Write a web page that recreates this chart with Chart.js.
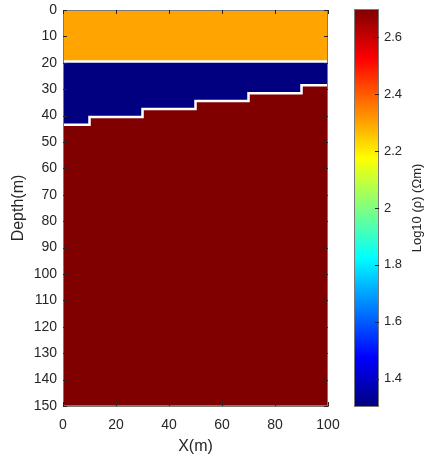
<!DOCTYPE html>
<html>
<head>
<meta charset="utf-8">
<script src="https://cdn.jsdelivr.net/npm/chart.js@4/dist/chart.umd.min.js"></script>
<style>
  body { margin: 0; background: #fff; }
  #model { position: absolute; left: 0; top: 0; }
  #cbar { position: absolute; left: 340px; top: 0; }
</style>
</head>
<body>
<canvas id="model" width="340" height="456"></canvas>
<canvas id="cbar" width="85" height="456"></canvas>
<script>
// layer model: log10 resistivity of each layer (top, middle, bottom)
const layerLogRho = [2.3, 1.3, 2.7];

// interface between top and middle layer
const topIfaceX = [0, 100];
const topIfaceDepth = [19.5, 19.5];

// stepped interface between middle and bottom layer
const stepIfaceX = [0, 10, 30, 50, 70, 90, 100];
const stepIfaceDepth = [43.5, 40.5, 37.5, 34.5, 31.5, 28.5, 28.5];

const depthRange = [0, 150];
const xRange = [0, 100];
const cbarRange = [1.3, 2.7];
const cbarTicks = [1.4, 1.6, 1.8, 2, 2.2, 2.4, 2.6];

const FONT = "'Liberation Sans', Arial, Helvetica, sans-serif";
const TEXT = "#262626";
const AXIS = "#7a7a7a";

// jet colormap, t in [0,1]
function jet(t) {
  const c = (v) => Math.round(255 * Math.min(1, Math.max(0, v)));
  return `rgb(${c(1.5 - Math.abs(4 * t - 3))},${c(1.5 - Math.abs(4 * t - 2))},${c(1.5 - Math.abs(4 * t - 1))})`;
}
const rhoColor = (v) => jet((v - cbarRange[0]) / (cbarRange[1] - cbarRange[0]));

const pts = (xs, ys) => xs.map((x, i) => ({ x: x, y: ys[i] }));

// keep label overhang from shrinking the plot box
const noOverhang = (s) => {
  s.paddingLeft = 0; s.paddingRight = 0;
  s.paddingTop = 0; s.paddingBottom = 0;
};

// MATLAB-style ticks pointing into the axes, plus the box
const inwardTicks = {
  id: "inwardTicks",
  afterDatasetsDraw(chart, args, opts) {
    const ctx = chart.ctx;
    const a = chart.chartArea;
    ctx.save();
    ctx.lineWidth = 1;
    ctx.strokeStyle = AXIS;
    ctx.strokeRect(Math.round(a.left) + 0.5, Math.round(a.top) + 0.5,
      Math.round(a.right - a.left) - 1, Math.round(a.bottom - a.top) - 1);
    ctx.strokeStyle = TEXT;
    const len = opts.len || 4;
    ctx.beginPath();
    (opts.axes || []).forEach((id) => {
      const s = chart.scales[id];
      s.ticks.forEach((t) => {
        const p = Math.round(s.getPixelForValue(t.value)) + 0.5;
        if (s.isHorizontal()) {
          ctx.moveTo(p, a.bottom); ctx.lineTo(p, a.bottom - len);
          ctx.moveTo(p, a.top); ctx.lineTo(p, a.top + len);
        } else {
          if (opts.sides !== "right") { ctx.moveTo(a.left, p); ctx.lineTo(a.left + len, p); }
          ctx.moveTo(a.right, p); ctx.lineTo(a.right - len, p);
        }
      });
    });
    ctx.stroke();
    ctx.restore();
  },
};

new Chart(document.getElementById("model"), {
  type: "line",
  data: {
    datasets: [
      {
        // top layer
        data: pts(topIfaceX, topIfaceDepth),
        order: 1,
        borderColor: "#ffffff",
        borderWidth: 2.5,
        backgroundColor: rhoColor(layerLogRho[0]),
        fill: { value: depthRange[0] },
        pointRadius: 0,
      },
      {
        // bottom layer below the stepped interface
        data: pts(stepIfaceX, stepIfaceDepth),
        order: 2,
        stepped: "before",
        borderColor: "#ffffff",
        borderWidth: 2.5,
        backgroundColor: rhoColor(layerLogRho[2]),
        fill: { value: depthRange[1] },
        pointRadius: 0,
      },
      {
        // middle layer
        data: pts(topIfaceX, topIfaceDepth),
        order: 3,
        borderWidth: 0,
        backgroundColor: rhoColor(layerLogRho[1]),
        fill: { value: depthRange[1] },
        pointRadius: 0,
      },
    ],
  },
  options: {
    responsive: false,
    animation: false,
    layout: { padding: { top: 10, right: 12, left: 0, bottom: 0 } },
    plugins: {
      legend: { display: false },
      tooltip: { enabled: false },
      inwardTicks: { axes: ["x", "y"], len: 4 },
    },
    scales: {
      x: {
        type: "linear",
        min: xRange[0],
        max: xRange[1],
        ticks: { stepSize: 20, color: TEXT, font: { family: FONT, size: 14 }, padding: 11, maxRotation: 0 },
        grid: { drawOnChartArea: false, drawTicks: false },
        border: { color: AXIS },
        title: { display: true, text: "X(m)", color: TEXT, font: { family: FONT, size: 16 }, padding: 0 },
        afterFit(s) { s.height = 50; noOverhang(s); },
      },
      y: {
        type: "linear",
        reverse: true,
        min: depthRange[0],
        max: depthRange[1],
        ticks: { stepSize: 10, color: TEXT, font: { family: FONT, size: 14 }, padding: 6 },
        grid: { drawOnChartArea: false, drawTicks: false },
        border: { color: AXIS },
        title: { display: true, text: "Depth(m)", color: TEXT, font: { family: FONT, size: 16 }, padding: { top: 9, bottom: 0 } },
        afterFit(s) { s.width = 63; noOverhang(s); },
      },
    },
  },
  plugins: [inwardTicks],
});

// colorbar title, reading bottom to top
const cbarTitle = {
  id: "cbarTitle",
  afterDraw(chart) {
    const ctx = chart.ctx;
    const a = chart.chartArea;
    ctx.save();
    ctx.translate(a.right + 38, (a.top + a.bottom) / 2);
    ctx.rotate(-Math.PI / 2);
    ctx.fillStyle = TEXT;
    ctx.font = `13px ${FONT}`;
    ctx.textAlign = "center";
    ctx.textBaseline = "middle";
    ctx.fillText("Log10 (\u03C1) (\u03A9m)", 0, 0);
    ctx.restore();
  },
};

new Chart(document.getElementById("cbar"), {
  type: "bar",
  data: {
    labels: [""],
    datasets: [
      {
        data: [cbarRange],
        barPercentage: 1,
        categoryPercentage: 1,
        borderWidth: 1,
        borderColor: AXIS,
        borderSkipped: false,
        backgroundColor(c) {
          const a = c.chart.chartArea;
          if (!a) return "#000";
          const g = c.chart.ctx.createLinearGradient(0, a.bottom, 0, a.top);
          for (let i = 0; i <= 64; i++) g.addColorStop(i / 64, jet(i / 64));
          return g;
        },
      },
    ],
  },
  options: {
    responsive: false,
    animation: false,
    layout: { padding: { top: 9, right: 0, left: 14, bottom: 49 } },
    plugins: {
      legend: { display: false },
      tooltip: { enabled: false },
      inwardTicks: { axes: ["y"], len: 4, sides: "right" },
    },
    scales: {
      x: { display: false },
      y: {
        position: "right",
        min: cbarRange[0],
        max: cbarRange[1],
        afterBuildTicks(s) { s.ticks = cbarTicks.map((v) => ({ value: v })); },
        ticks: { color: TEXT, font: { family: FONT, size: 13 }, padding: 5, callback: (v) => String(v) },
        grid: { drawOnChartArea: false, drawTicks: false },
        border: { display: false },
        afterFit(s) { s.width = 46; noOverhang(s); },
      },
    },
  },
  plugins: [inwardTicks, cbarTitle],
});
</script>
</body>
</html>
